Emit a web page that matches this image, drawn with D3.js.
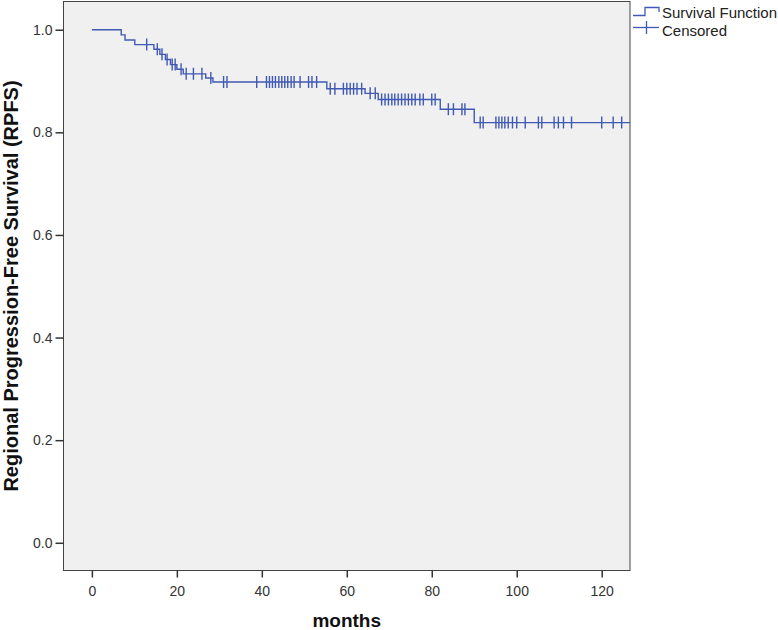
<!DOCTYPE html>
<html>
<head>
<meta charset="utf-8">
<script src="https://cdn.jsdelivr.net/npm/d3@7"></script>
<style>
  body { margin: 0; background: #fff; }
  svg { display: block; font-family: "Liberation Sans", Arial, sans-serif; }
</style>
</head>
<body>
<div id="chart"></div>
<script>
// event times (months) and survival right after each event
var eventTimes = [6.9, 7.8, 10.1, 14.6, 16.0, 17.3, 18.5, 20.0, 21.5, 26.8, 28.5, 55.3, 64.3, 67.4, 82.0, 90.0];
var eventSurv  = [0.990, 0.980, 0.971, 0.962, 0.952, 0.942, 0.932, 0.923, 0.914, 0.906, 0.898, 0.885, 0.876, 0.864, 0.845, 0.819];
// censored times (months)
var censorTimes = [12.9, 15.4, 16.5, 17.7, 18.9, 19.6, 21.0, 22.2, 23.9, 25.9, 28.0, 31.0, 31.8,
  38.8, 41.1, 41.8, 42.5, 43.2, 44.0, 44.7, 45.4, 46.1, 46.9, 47.6, 49.0, 51.0, 51.8, 52.9,
  56.1, 57.2, 59.2, 60.0, 60.8, 61.6, 62.4, 63.5, 65.5, 66.7,
  68.2, 69.0, 69.8, 70.6, 71.3, 72.1, 72.9, 73.7, 74.5, 75.3, 76.1, 77.2, 78.0, 80.0, 80.8,
  83.9, 85.1, 87.1, 87.8,
  91.4, 92.1, 95.1, 95.8, 96.5, 97.2, 98.0, 99.0, 100.0, 102.0, 105.1, 105.9, 108.8, 109.8, 111.0, 112.9, 120.0, 122.7, 124.7];
var followUpEnd = 127;
var xTicks = [0, 20, 40, 60, 80, 100, 120];
var yTicks = [0.0, 0.2, 0.4, 0.6, 0.8, 1.0];
var legendLabels = ["Survival Function", "Censored"];

var W = 778, H = 630;
var plot = {left: 63.5, right: 630, top: 1.5, bottom: 570.5};
var lineColor = "#4059b4";

var svg = d3.select("#chart").append("svg").attr("width", W).attr("height", H);

var x = d3.scaleLinear().domain([-6.68, 126.66]).range([plot.left, plot.right]);
var y = d3.scaleLinear().domain([-0.054, 1.055]).range([plot.bottom, plot.top]);

svg.append("rect")
  .attr("x", plot.left).attr("y", plot.top)
  .attr("width", plot.right - plot.left).attr("height", plot.bottom - plot.top)
  .attr("fill", "#f0f0f0").attr("stroke", "#444").attr("stroke-width", 1);

svg.append("clipPath").attr("id", "clip").append("rect")
  .attr("x", plot.left).attr("y", plot.top)
  .attr("width", plot.right - plot.left).attr("height", plot.bottom - plot.top);

// axes
var xAxis = svg.append("g")
  .attr("transform", "translate(0," + plot.bottom + ")")
  .call(d3.axisBottom(x).tickValues(xTicks).tickSize(7).tickSizeOuter(0).tickFormat(d3.format("d")));
xAxis.select(".domain").remove();
xAxis.selectAll("line").attr("stroke", "#333").attr("stroke-width", 1.5);
xAxis.selectAll("text").attr("fill", "#333").attr("font-size", "14px").attr("dy", "0").attr("y", 25);

var yAxis = svg.append("g")
  .attr("transform", "translate(" + plot.left + ",0)")
  .call(d3.axisLeft(y).tickValues(yTicks).tickSize(8).tickSizeOuter(0).tickFormat(d3.format(".1f")));
yAxis.select(".domain").remove();
yAxis.selectAll("line").attr("stroke", "#333").attr("stroke-width", 1.5);
yAxis.selectAll("text").attr("fill", "#333").attr("font-size", "14px").attr("x", -11);

svg.append("text")
  .attr("x", (plot.left + plot.right) / 2).attr("y", 627)
  .attr("text-anchor", "middle").attr("font-size", "19px").attr("font-weight", "bold").attr("fill", "#111")
  .text("months");

svg.append("text")
  .attr("transform", "translate(18," + ((plot.top + plot.bottom) / 2) + ") rotate(-90)")
  .attr("text-anchor", "middle").attr("font-size", "20px").attr("font-weight", "bold").attr("fill", "#111")
  .text("Regional Progression-Free Survival (RPFS)");

// survival step curve
var pts = [[0, 1.0]];
eventTimes.forEach(function(t, i) { pts.push([t, eventSurv[i]]); });
pts.push([followUpEnd, eventSurv[eventSurv.length - 1]]);

function survAt(t) {
  var s = 1.0;
  for (var i = 0; i < eventTimes.length; i++) { if (eventTimes[i] <= t) s = eventSurv[i]; }
  return s;
}

var g = svg.append("g").attr("clip-path", "url(#clip)");
g.append("path")
  .datum(pts)
  .attr("fill", "none").attr("stroke", lineColor).attr("stroke-width", 1.4)
  .attr("d", d3.line().x(function(d) { return x(d[0]); }).y(function(d) { return y(d[1]); }).curve(d3.curveStepAfter));

g.selectAll(".cens").data(censorTimes).enter().append("line")
  .attr("class", "cens")
  .attr("x1", function(d) { return x(d); }).attr("x2", function(d) { return x(d); })
  .attr("y1", function(d) { return y(survAt(d)) - 6; }).attr("y2", function(d) { return y(survAt(d)) + 6; })
  .attr("stroke", lineColor).attr("stroke-width", 1.4);

// legend
var lg = svg.append("g");
lg.append("path")
  .attr("d", "M633,15.5H645V7.5H659V12")
  .attr("fill", "none").attr("stroke", lineColor).attr("stroke-width", 1.3);
lg.append("line").attr("x1", 633).attr("x2", 659).attr("y1", 27.5).attr("y2", 27.5)
  .attr("stroke", lineColor).attr("stroke-width", 1.3);
lg.append("line").attr("x1", 646.5).attr("x2", 646.5).attr("y1", 21).attr("y2", 34)
  .attr("stroke", lineColor).attr("stroke-width", 1.3);
lg.selectAll(".ltxt").data(legendLabels).enter().append("text")
  .attr("x", 662).attr("y", function(d, i) { return 18 + i * 18; })
  .attr("font-size", "15px").attr("fill", "#222")
  .text(function(d) { return d; });
</script>
</body>
</html>
